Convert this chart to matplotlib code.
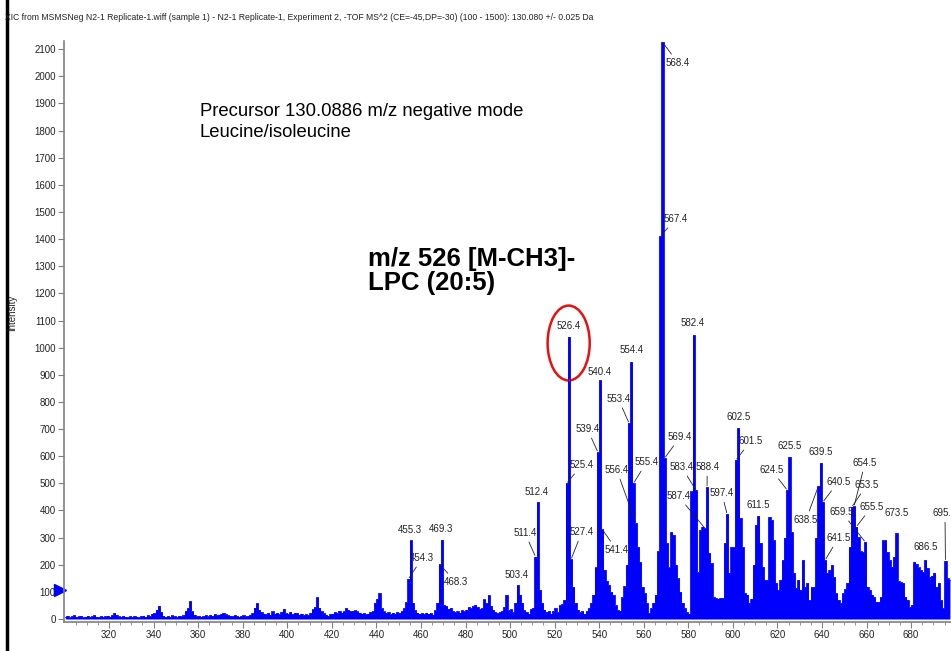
import matplotlib
matplotlib.use('Agg')
import matplotlib.pyplot as plt
from matplotlib.patches import Ellipse
from matplotlib.lines import Line2D
import numpy as np

plt.rcParams['font.family'] = ['Liberation Sans Narrow', 'Liberation Sans', 'DejaVu Sans']

# spectrum, one value per m/z unit starting at 300
mz_start = 300
intensity = [
    8, 12, 6, 10, 14, 8, 10, 12, 6, 9,            # 300
    12, 8, 10, 14, 9, 7, 11, 8, 10, 12,           # 310
    9, 14, 22, 15, 10, 8, 12, 9, 7, 10,           # 320
    8, 11, 9, 6, 10, 12, 9, 14, 10, 20,           # 330
    22, 34, 48, 26, 12, 9, 11, 8, 13, 10,         # 340
    9, 12, 10, 14, 30, 40, 66, 28, 16, 10,        # 350
    12, 9, 11, 14, 10, 15, 12, 18, 14, 16,        # 360
    20, 22, 18, 14, 12, 10, 14, 12, 9, 11,        # 370
    13, 10, 12, 16, 22, 42, 58, 34, 26, 20,       # 380
    18, 24, 16, 28, 20, 24, 18, 26, 37, 22,       # 390
    20, 26, 18, 24, 22, 16, 20, 14, 18, 15,       # 400
    22, 36, 44, 80, 42, 28, 22, 16, 12, 18,       # 410
    20, 26, 22, 30, 24, 28, 40, 33, 28, 30,       # 420
    32, 28, 24, 20, 22, 18, 20, 26, 30, 60,       # 430
    74, 95, 40, 28, 22, 26, 18, 24, 20, 26,       # 440
    22, 30, 40, 62, 148, 290, 60, 32, 24, 20,     # 450
    22, 18, 24, 20, 22, 16, 32, 60, 202, 292,     # 460
    52, 48, 38, 42, 30, 26, 28, 24, 32, 28,       # 470
    34, 44, 40, 48, 52, 44, 36, 40, 72, 58,       # 480
    88, 48, 34, 26, 22, 26, 30, 44, 88, 32,       # 490
    36, 26, 60, 125, 90, 60, 32, 26, 20, 36,      # 500
    42, 230, 431, 107, 60, 35, 25, 30, 20, 30,    # 510
    40, 25, 50, 55, 70, 500, 1040, 220, 118, 60,  # 520
    35, 25, 30, 20, 30, 40, 60, 90, 190, 615,     # 530
    880, 330, 180, 140, 125, 100, 88, 50, 33, 30, # 540
    80, 120, 200, 722, 947, 500, 354, 265, 210, 118,   # 550
    95, 59, 22, 40, 60, 90, 250, 1411, 2126, 593,      # 560
    280, 190, 320, 310, 200, 150, 100, 60, 40, 25,     # 570
    20, 470, 1046, 475, 172, 328, 340, 335, 486, 243,  # 580
    206, 81, 77, 75, 78, 76, 280, 387, 170, 265,       # 590
    265, 586, 704, 372, 265, 95, 90, 60, 75, 200,      # 600
    347, 380, 280, 192, 144, 144, 376, 365, 290, 133,  # 610
    107, 144, 217, 300, 475, 597, 320, 170, 114, 144,  # 620
    107, 217, 118, 133, 70, 118, 118, 300, 490, 575,   # 630
    431, 217, 170, 180, 199, 155, 95, 70, 59, 95,      # 640
    110, 133, 265, 413, 416, 340, 302, 250, 247, 284,  # 650
    118, 107, 90, 81, 63, 63, 81, 290, 290, 247,       # 660
    217, 192, 230, 317, 140, 136, 133, 81, 70, 44,     # 670
    52, 210, 203, 190, 180, 173, 217, 188, 155, 160,   # 680
    170, 118, 133, 70, 40, 214, 150, 144,              # 690
]

# peak labels: text, peak bin, label x, label y, leader line
peak_labels = [
    ('455.3', 455, 455.1, 328, False), ('454.3', 454, 460.6, 225, True),
    ('469.3', 469, 469.0, 332, False), ('468.3', 468, 475.6, 136, True),
    ('503.4', 503, 503.0, 162, False), ('511.4', 511, 506.7, 317, True),
    ('512.4', 512, 512.0, 468, False), ('525.4', 525, 532.2, 567, True),
    ('526.4', 526, 526.2, 1080, False), ('527.4', 527, 532.2, 320, True),
    ('539.4', 539, 534.7, 700, True), ('540.4', 540, 540.2, 910, False),
    ('541.4', 541, 547.9, 254, True), ('553.4', 553, 548.6, 811, True),
    ('554.4', 554, 554.7, 991, False), ('555.4', 555, 561.3, 578, True),
    ('556.4', 556, 547.9, 549, True), ('567.4', 567, 574.5, 1474, True),
    ('568.4', 568, 575.4, 2049, True), ('569.4', 569, 576.3, 671, True),
    ('582.4', 582, 582.1, 1091, False), ('583.4', 583, 577.0, 560, True),
    ('587.4', 587, 575.5, 453, True), ('588.4', 588, 588.5, 560, True),
    ('597.4', 597, 595.0, 464, True), ('601.5', 601, 608.0, 656, True),
    ('602.5', 602, 602.5, 744, False), ('611.5', 611, 611.4, 420, False),
    ('624.5', 624, 617.4, 549, True), ('625.5', 625, 625.3, 637, False),
    ('638.5', 638, 632.8, 365, True), ('639.5', 639, 639.6, 615, False),
    ('640.5', 640, 647.3, 505, True), ('641.5', 641, 647.3, 298, True),
    ('653.5', 653, 660.1, 494, True), ('654.5', 654, 659.3, 575, True),
    ('655.5', 655, 662.3, 413, True), ('659.5', 659, 648.8, 394, True),
    ('673.5', 673, 673.5, 390, False), ('686.5', 686, 686.7, 265, False),
    ('695.5', 695, 695.2, 390, True),
]

title = ('XIC from MSMSNeg N2-1 Replicate-1.wiff (sample 1) - N2-1 Replicate-1, '
         'Experiment 2, -TOF MS^2 (CE=-45,DP=-30) (100 - 1500): 130.080 +/- 0.025 Da')

mz = mz_start + 0.4 + np.arange(len(intensity))
inten = np.array(intensity, dtype=float)

fig = plt.figure(figsize=(9.51, 6.51), dpi=100)
ax = fig.add_axes([64/951, 29/651, 1 - 64/951, 581/651])

blue = '#0000ff'
ax.fill_between(mz, inten, step='mid', color=blue, linewidth=0)
ax.step(mz, inten, where='mid', color=blue, lw=0.6)

ax.set_xlim(299.8, 697.9)
ax.set_ylim(-11, 2130)
ax.set_xticks(np.arange(320, 690, 20))
ax.set_xticks(np.arange(305, 698, 5), minor=True)
ax.set_yticks(np.arange(0, 2101, 100))
for s in ['top', 'right']:
    ax.spines[s].set_visible(False)
for s in ['left', 'bottom']:
    ax.spines[s].set_color('#808080')
    ax.spines[s].set_linewidth(1.2)
ax.tick_params(axis='both', which='major', length=4, color='#808080',
               labelsize=7.0, labelcolor='#222222', pad=2)
ax.tick_params(axis='x', which='minor', length=2, color='#808080')
ax.tick_params(axis='y', which='minor', left=False)

for text, b, lx, ly, leader in peak_labels:
    px = b + 0.4
    py = intensity[b - mz_start]
    if leader:
        ax.annotate(text, xy=(px, py), xytext=(lx, ly), ha='center', va='center',
                    fontsize=7.0, color='#222222',
                    arrowprops=dict(arrowstyle='-', lw=0.6, color='#222222',
                                    shrinkA=1, shrinkB=1))
    else:
        ax.text(lx, ly, text, ha='center', va='center', fontsize=7.0, color='#222222')

ax.add_patch(Ellipse((526.3, 1017), 18.9, 276, fill=False, edgecolor='#e81010', lw=1.8))

ax.text(360.8, 1872, 'Precursor 130.0886 m/z negative mode', fontsize=13.3,
        family=['Liberation Sans', 'DejaVu Sans'], va='center')
ax.text(360.8, 1791, 'Leucine/isoleucine', fontsize=13.3,
        family=['Liberation Sans', 'DejaVu Sans'], va='center')
ax.text(436.2, 1325, 'm/z 526 [M-CH3]-', fontsize=18.5, fontweight='bold',
        family=['Liberation Sans', 'DejaVu Sans'], va='center')
ax.text(436.2, 1237, 'LPC (20:5)', fontsize=18.5, fontweight='bold',
        family=['Liberation Sans', 'DejaVu Sans'], va='center')

# blue arrow marker on the y axis
ax.plot([-0.004], [107], marker='>', ms=8, color=blue, clip_on=False,
        transform=ax.get_yaxis_transform())

fig.text(5/951, 1 - 17/651, title, fontsize=6.25, color='#222222', va='center')
fig.text(12/951, 0.52, 'Intensity', rotation=90, fontsize=7.0, color='#222222',
         ha='center', va='center')
fig.add_artist(Line2D([6.5/951, 6.5/951], [0, 1], lw=2.5, color='black'))

fig.savefig('out.png', dpi=100)
